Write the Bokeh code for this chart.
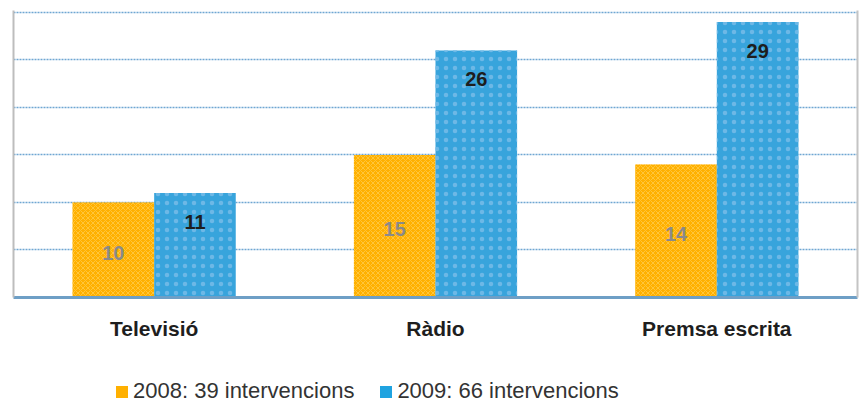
from bokeh.plotting import figure
from bokeh.layouts import column
from bokeh.models import (ColumnDataSource, FactorRange, Legend, LegendItem,
                          LinearAxis, Range1d, FixedTicker)
from bokeh.transform import dodge
from bokeh.embed import file_html
from bokeh.resources import INLINE
from bokeh.core.properties import value

categories = ["Televisió", "Ràdio", "Premsa escrita"]
values_2008 = [10, 15, 14]
values_2009 = [11, 26, 29]
series_labels = ["2008: 39 intervencions", "2009: 66 intervencions"]
y_ticks = [0, 5, 10, 15, 20, 25, 30]

ORANGE = "#FFB000"
BLUE = "#38A4DC"

src = ColumnDataSource(dict(
    cat=categories,
    v8=values_2008,
    v9=values_2009,
    mid8=[v / 2 for v in values_2008],
    t8=[str(v) for v in values_2008],
    t9=[str(v) for v in values_2009],
))

p = figure(x_range=FactorRange(*categories, range_padding=0),
           y_range=Range1d(0, 30.2),
           frame_width=844, frame_height=287,
           output_backend="svg", toolbar_location=None,
           min_border_left=13, min_border_right=2, min_border_top=10,
           min_border_bottom=46)
p.outline_line_color = None
p.background_fill_color = "white"
p.border_fill_color = "white"

W = 0.29
r8 = p.vbar(x=dodge("cat", -W / 2, range=p.x_range), top="v8", width=W, bottom=0,
            source=src, fill_color=ORANGE, line_color=None,
            hatch_pattern="diagonal_cross", hatch_color="#FFC63A",
            hatch_scale=5, hatch_weight=1)
r9 = p.vbar(x=dodge("cat", W / 2, range=p.x_range), top="v9", width=W, bottom=0,
            source=src, fill_color=BLUE, line_color=None,
            hatch_pattern="dot", hatch_color="#6DB8E6",
            hatch_scale=9, hatch_weight=1)

p.text(x=dodge("cat", -W / 2, range=p.x_range), y="mid8", text="t8", source=src,
       text_align="center", text_baseline="middle", y_offset=3,
       text_font=value("Liberation Sans"), text_font_style="bold",
       text_font_size="20px", text_color="#8A8A8A")
p.text(x=dodge("cat", W / 2, range=p.x_range), y="v9", text="t9", source=src,
       text_align="center", text_baseline="middle", y_offset=29,
       text_font=value("Liberation Sans"), text_font_style="bold",
       text_font_size="20px", text_color="#1E1E1E")

# grid
p.xgrid.visible = False
p.ygrid.ticker = FixedTicker(ticks=y_ticks)
p.ygrid.grid_line_color = "#6FA6D2"
p.ygrid.grid_line_width = 1.5
p.ygrid.grid_line_dash = "2 1"

# axes (frame border lines only)
p.yaxis.ticker = FixedTicker(ticks=[])
p.yaxis.axis_line_color = "#BDBDBD"
p.yaxis.axis_line_width = 2
p.yaxis.major_tick_line_color = None
p.yaxis.minor_tick_line_color = None
p.yaxis.major_label_standoff = 0

ra = LinearAxis(ticker=FixedTicker(ticks=[]), axis_line_color="#C4C4C4",
                axis_line_width=2, major_tick_line_color=None,
                minor_tick_line_color=None, major_label_standoff=0)
p.add_layout(ra, "right")

p.xaxis.axis_line_color = "#6E9FC6"
p.xaxis.axis_line_width = 3
p.xaxis.major_tick_line_color = None
p.xaxis.minor_tick_line_color = None
p.xaxis.major_label_standoff = 13
p.xaxis.major_label_text_font = "Liberation Sans"
p.xaxis.major_label_text_font_style = "bold"
p.xaxis.major_label_text_font_size = "21px"
p.xaxis.major_label_text_color = "#1E1E1E"

# legend in its own strip below the chart
lg = figure(width=859, height=61, x_range=Range1d(0, 1), y_range=Range1d(0, 1),
            x_axis_type=None, y_axis_type=None,
            output_backend="svg", toolbar_location=None, min_border=0)
lg.outline_line_color = None
lg.grid.visible = False
lg.border_fill_color = "white"
# swatch renderers (their bars lie outside the visible range)
l8 = lg.vbar(x=[0.5], top=[-1], bottom=[-2], width=0.1,
             fill_color=ORANGE, line_color=None)
l9 = lg.vbar(x=[0.5], top=[-1], bottom=[-2], width=0.1,
             fill_color="#1FA3E0", line_color=None)
legend = Legend(items=[LegendItem(label=series_labels[0], renderers=[l8]),
                       LegendItem(label=series_labels[1], renderers=[l9])],
                orientation="horizontal", location=(101, 0),
                glyph_width=15, glyph_height=15, label_standoff=4,
                spacing=24, padding=0, margin=0,
                border_line_color=None, background_fill_alpha=0,
                label_text_font="Liberation Sans", label_text_font_size="22px",
                label_text_color="#333333")
lg.add_layout(legend, "center")

layout = column(p, lg, spacing=0)
open("out.html", "w").write(file_html(layout, INLINE))
